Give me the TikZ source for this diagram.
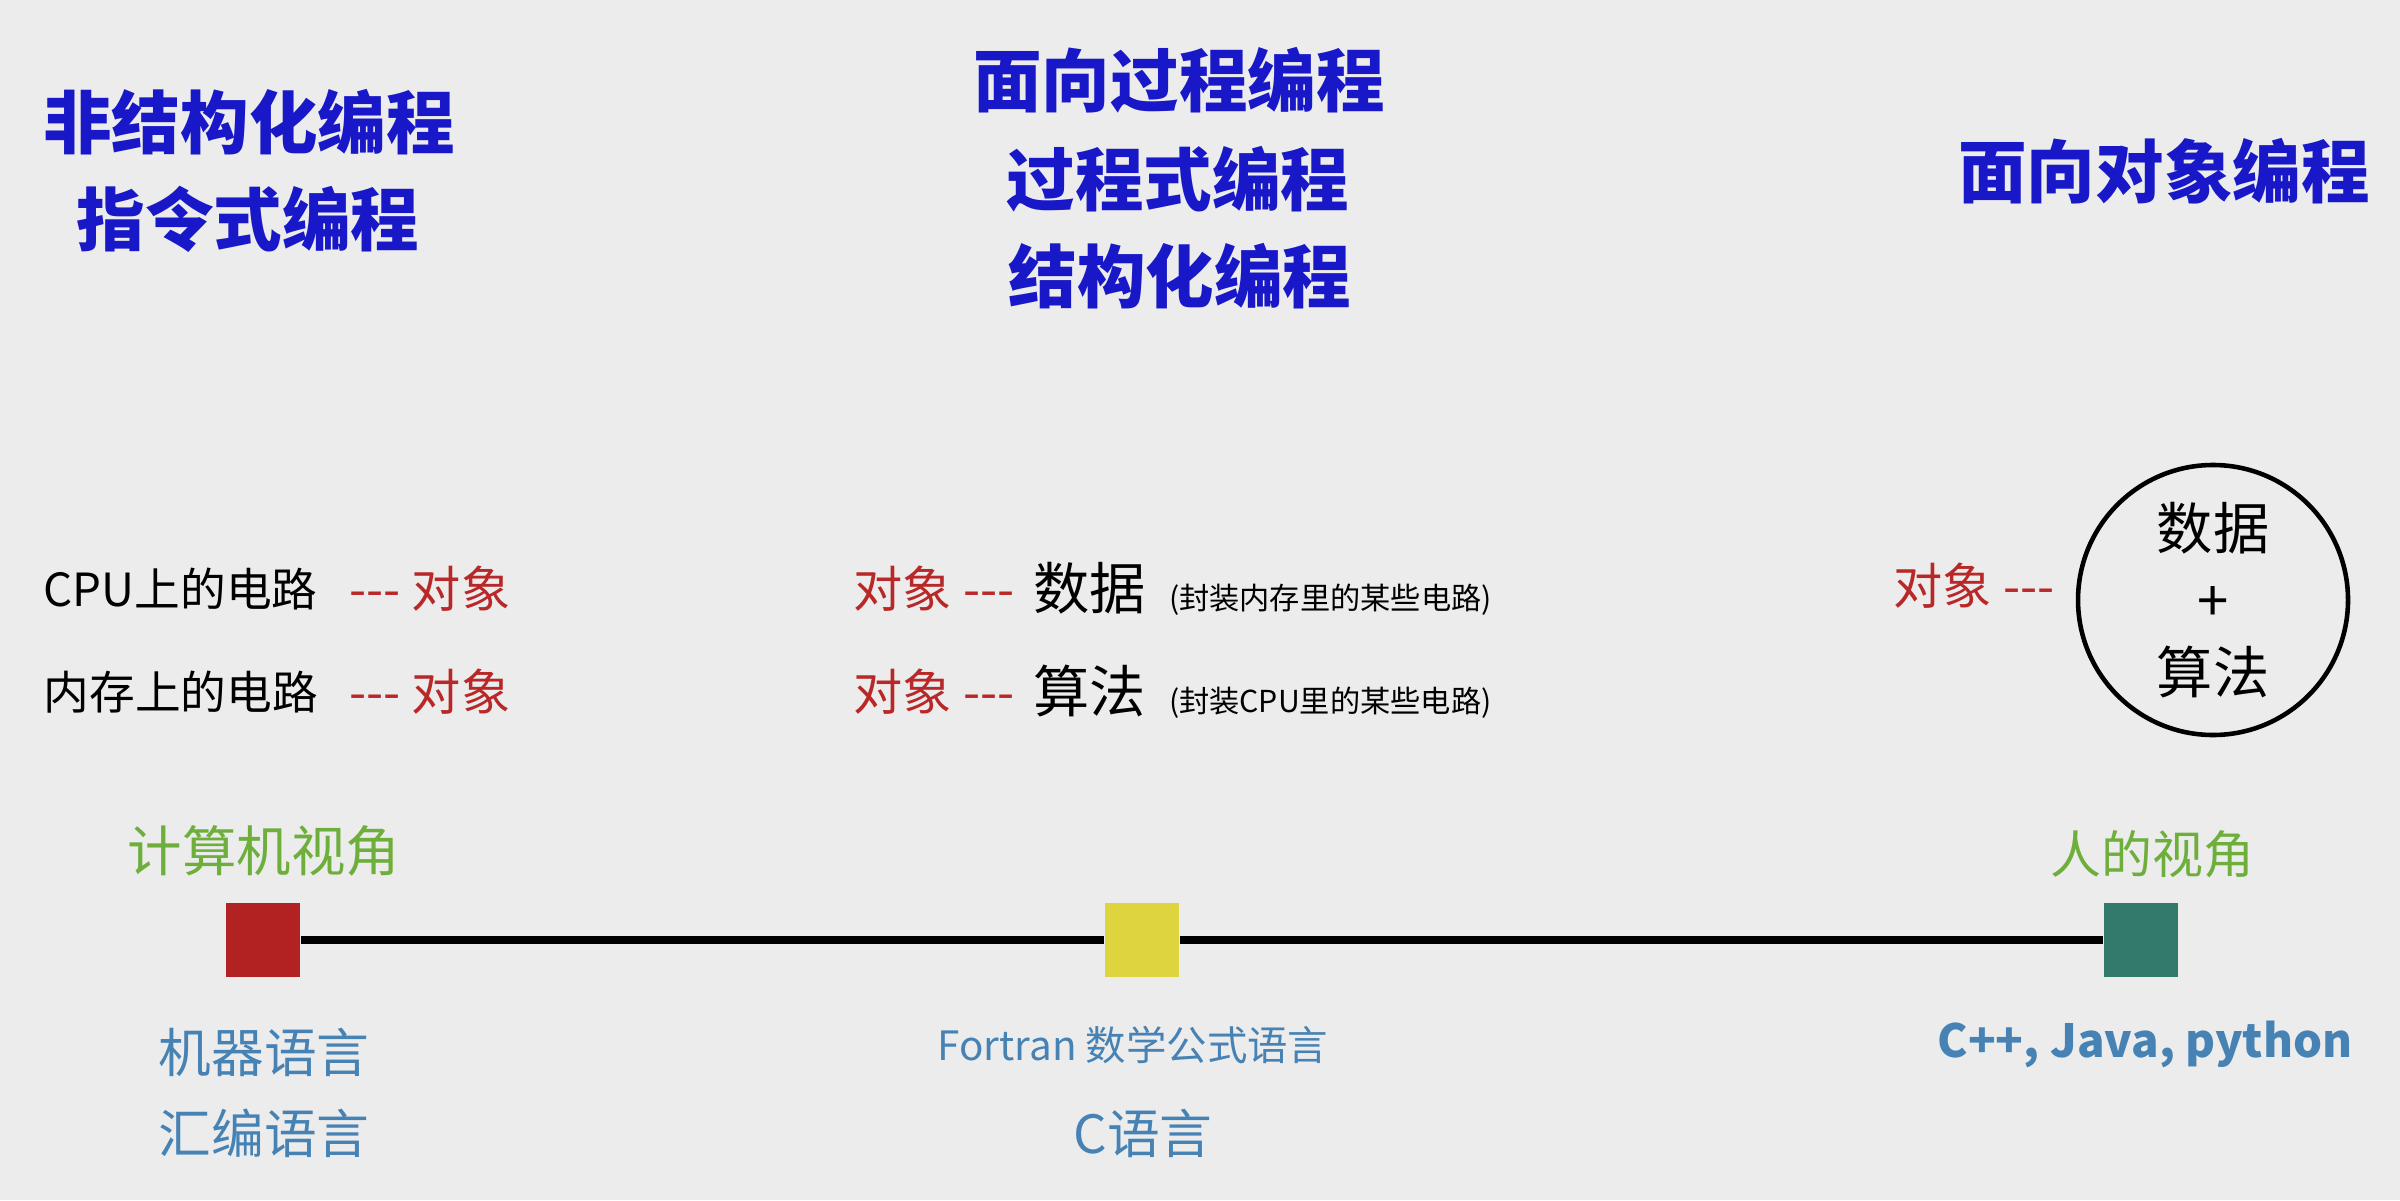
\documentclass[tikz,border=0pt]{standalone}
\usepackage{fontspec}
\setmainfont{Noto Sans CJK SC}
\usetikzlibrary{positioning}
\definecolor{oopbg}{RGB}{236,236,236}
\definecolor{oopblue}{RGB}{24,24,200}
\definecolor{oopred}{RGB}{185,40,40}
\definecolor{oopgreen}{RGB}{110,175,60}
\definecolor{ooplang}{RGB}{70,130,180}
\definecolor{sqred}{RGB}{178,34,34}
\definecolor{sqyellow}{RGB}{222,212,62}
\definecolor{sqteal}{RGB}{52,122,106}
\begin{document}
\begin{tikzpicture}[
  paradigm/.style={text=oopblue,inner sep=0pt,font=\fontsize{19.5}{22}\selectfont\bfseries},
  circuit/.style={anchor=west,inner sep=0pt,font=\fontsize{13}{15}\selectfont},
  objtag/.style={anchor=west,inner sep=0pt,text=oopred,font=\fontsize{14}{16}\selectfont},
  view/.style={text=oopgreen,inner sep=0pt,font=\fontsize{14.5}{17}\selectfont},
  lang/.style={text=ooplang,inner sep=0pt,font=\fontsize{15}{17}\selectfont},
  marker/.style={minimum size=0.74cm,inner sep=0pt}]
\useasboundingbox (0,0) rectangle (24,12);
\fill[oopbg] (0,0) rectangle (24,12);
% programming paradigms
\node[paradigm] (unstruct) at (2.49,10.78) {非结构化编程};
\node[paradigm] (imper) at (2.48,9.81) {指令式编程};
\node[paradigm] (procA) at (11.79,11.20) {面向过程编程};
\node[paradigm] (procB) at (11.78,10.21) {过程式编程};
\node[paradigm] (procC) at (11.80,9.24) {结构化编程};
\node[paradigm] (oop) at (21.64,10.29) {面向对象编程};
% what an object is
\node[circuit] (cpu) at (0.43,6.11) {CPU上的电路};\node[objtag] (cpuobj) at (3.49,6.11) {-{}-{}- 对象};
\node[circuit] (mem) at (0.43,5.08) {内存上的电路};\node[objtag] (memobj) at (3.49,5.08) {-{}-{}- 对象};
\node[objtag] (dataobj) at (8.53,6.11) {对象 -{}-{}-};
\node[circuit] (data) at (10.33,6.11) {{\fontsize{16}{18}\selectfont 数据}\hspace{0.5em}{\fontsize{8.6}{11}\selectfont (封装内存里的某些电路)}};
\node[objtag] (algobj) at (8.53,5.08) {对象 -{}-{}-};
\node[circuit] (alg) at (10.33,5.08) {{\fontsize{16}{18}\selectfont 算法}\hspace{0.5em}{\fontsize{8.6}{11}\selectfont (封装CPU里的某些电路)}};
\node[objtag] (oopobj) at (18.93,6.14) {对象 -{}-{}-};
\node[circle,draw,line width=1.3pt,minimum size=2.7cm,align=center,font=\fontsize{16}{20.5}\selectfont] (whole) at (22.13,6.0) {数据\\+\\算法};
% timeline of languages
\node[view,font=\fontsize{15.5}{17}\selectfont] (machview) at (2.64,3.49) {计算机视角};
\node[view] (humview) at (21.52,3.46) {人的视角};
\node[marker,fill=sqred] (low) at (2.63,2.60) {};
\node[marker,fill=sqyellow] (mid) at (11.42,2.60) {};
\node[marker,fill=sqteal] (high) at (21.41,2.60) {};
\draw[line width=2.2pt] (low) -- (mid) -- (high);
\node[lang] (mach) at (2.64,1.48) {机器语言};
\node[lang] (asm) at (2.64,0.67) {汇编语言};
\node[lang,font=\fontsize{11.5}{14}\selectfont] (fortran) at (11.33,1.55) {Fortran 数学公式语言};
\node[lang] (clang) at (11.43,0.67) {C语言};
\node[lang,font=\fontsize{13}{15}\selectfont\bfseries] (modern) at (21.45,1.56) {C++, Java, python};
\end{tikzpicture}
\end{document}
